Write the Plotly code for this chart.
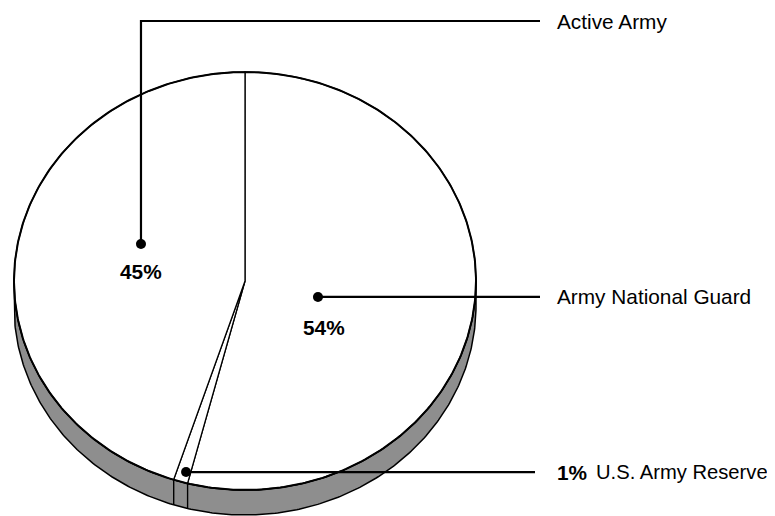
import numpy as np
import plotly.graph_objects as go

# ---- data ----
categories = ["Active Army", "Army National Guard", "U.S. Army Reserve"]
shares = [45, 54, 1]
clockwise_order = ["Army National Guard", "U.S. Army Reserve", "Active Army"]

# ---- geometry / style (reference pixel space) ----
W, H = 775, 516
PAGE_OFF = 8  # default body margin of the html page
CX, CY, A, B, DEPTH = 245, 281, 231, 209, 25
WALL = "#8e8e8e"
FONT = "Liberation Sans, Arial, sans-serif"
FS = 20.8
# label anchor: offset from slice mid-angle (deg) and radius fraction
anchor_style = {
    "Active Army": (12.5, 0.484),
    "Army National Guard": (6.4, 0.325),
    "U.S. Army Reserve": (-0.6, 0.949),
}
LINE_END_X = {"Active Army": 540, "Army National Guard": 540, "U.S. Army Reserve": 535}
TEXT_X = 555
ELBOW_Y = 21

share_of = dict(zip(categories, shares))
total = sum(shares)


def ell(t, dy=0.0):
    return CX + A * np.cos(t), CY + B * np.sin(t) + dy


fig = go.Figure()

# side wall (front half of the disc)
t = np.linspace(0, np.pi, 300)
xt, yt = ell(t)
xb, yb = ell(t[::-1], DEPTH)
fig.add_trace(go.Scatter(x=np.r_[xt, xb, xt[:1]], y=np.r_[yt, yb, yt[:1]],
                         mode="lines", fill="toself", fillcolor=WALL,
                         line=dict(color="black", width=1.5), hoverinfo="skip"))

# slices on top face
start = -np.pi / 2
bounds = {}
for name in clockwise_order:
    span = share_of[name] / total * 2 * np.pi
    ts = np.linspace(start, start + span, max(3, int(span * 80)))
    xs, ys = ell(ts)
    fig.add_trace(go.Scatter(x=np.r_[CX, xs, CX], y=np.r_[CY, ys, CY],
                             mode="lines", fill="toself", fillcolor="white",
                             line=dict(color="black", width=1.3), hoverinfo="skip"))
    bounds[name] = (start, start + span)
    start += span

# rim outline
tr = np.linspace(0, 2 * np.pi, 400)
xr, yr = ell(tr)
fig.add_trace(go.Scatter(x=xr, y=yr, mode="lines",
                         line=dict(color="black", width=2), hoverinfo="skip"))

# slice edges continuing down the wall
for name in clockwise_order:
    for tb in bounds[name]:
        tb_m = np.mod(tb, 2 * np.pi)
        if 0 < tb_m < np.pi:
            x0, y0 = ell(tb_m)
            fig.add_trace(go.Scatter(x=[x0, x0], y=[y0, y0 + DEPTH], mode="lines",
                                     line=dict(color="black", width=1.2), hoverinfo="skip"))

# leader lines, dots and labels
anns = []
for name in categories:
    t0, t1 = bounds[name]
    off, rf = anchor_style[name]
    tm = (t0 + t1) / 2 + np.deg2rad(off)
    dx, dy = CX + rf * A * np.cos(tm), CY + rf * B * np.sin(tm)
    if name == "Active Army":
        lx, ly = [dx, dx, LINE_END_X[name]], [dy, ELBOW_Y, ELBOW_Y]
        ty = ELBOW_Y
    else:
        lx, ly = [dx, LINE_END_X[name]], [dy, dy]
        ty = dy
    fig.add_trace(go.Scatter(x=lx, y=ly, mode="lines",
                             line=dict(color="black", width=2.2), hoverinfo="skip"))
    fig.add_trace(go.Scatter(x=[dx], y=[dy], mode="markers",
                             marker=dict(color="black", size=10), hoverinfo="skip"))
    pct = f"{share_of[name]}%"
    if name == "U.S. Army Reserve":
        anns.append(dict(x=TEXT_X, y=ty, text=f"<b>{pct}</b>", xanchor="left",
                         font=dict(size=FS, family=FONT, color="black")))
        anns.append(dict(x=TEXT_X + 39, y=ty, text=name, xanchor="left",
                         font=dict(size=20.2, family=FONT, color="black")))
    else:
        anns.append(dict(x=TEXT_X, y=ty, text=name, xanchor="left",
                         font=dict(size=FS, family=FONT, color="black")))
        shift = (0, 28) if name == "Active Army" else (6, 31)
        anns.append(dict(x=dx + shift[0], y=dy + shift[1], text=f"<b>{pct}</b>",
                         xanchor="center", font=dict(size=FS, family=FONT, color="black")))

for a in anns:
    a.update(xref="x", yref="y", showarrow=False, yanchor="middle")

fig.update_layout(
    width=W - PAGE_OFF, height=H - PAGE_OFF, margin=dict(l=0, r=0, t=0, b=0),
    paper_bgcolor="white", plot_bgcolor="white", showlegend=False,
    xaxis=dict(range=[PAGE_OFF, W], visible=False, fixedrange=True),
    yaxis=dict(range=[H, PAGE_OFF], visible=False, fixedrange=True),
    annotations=anns,
)
fig.write_html("out.html")
